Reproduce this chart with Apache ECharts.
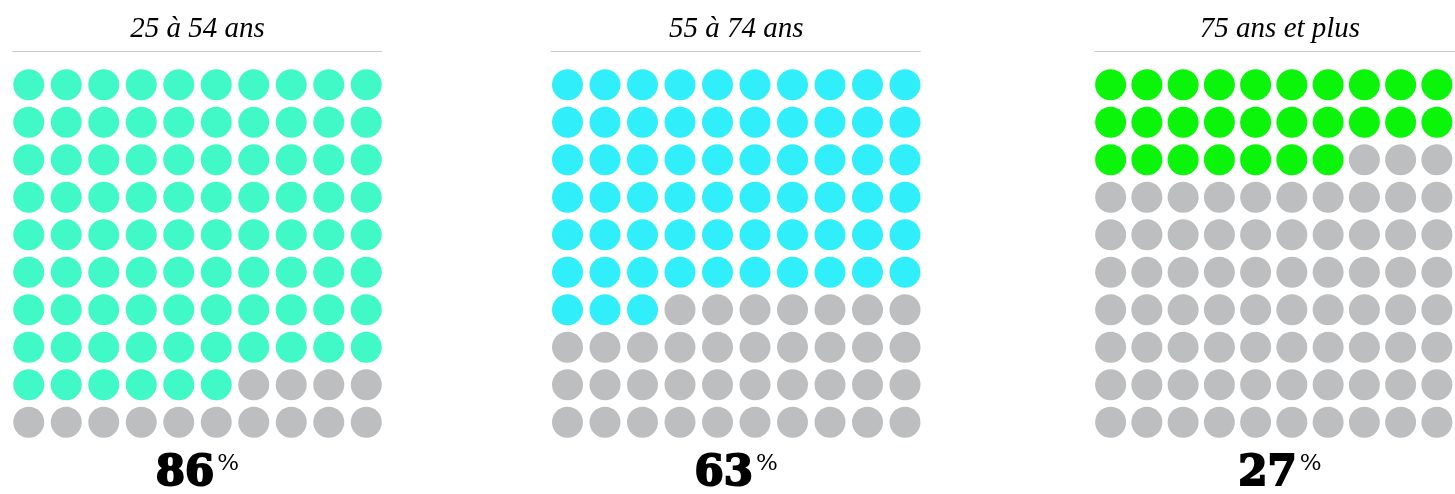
<!DOCTYPE html>
<html>
<head>
<meta charset="utf-8">
<script src="https://cdn.jsdelivr.net/npm/echarts@6/dist/echarts.min.js"></script>
<style>
  html, body { margin: 0; padding: 0; background: #fff; }
  #chart { width: 1455px; height: 494px; }
</style>
</head>
<body>
<div id="chart"></div>
<script>
// data
const groups = ['25 à 54 ans', '55 à 74 ans', '75 ans et plus'];
const percents = [86, 63, 27];
const fillColors = ['#41f9c6', '#31eefb', '#0af50a'];
const emptyColor = '#bdbec0';
const cols = ['0', '1', '2', '3', '4', '5', '6', '7', '8', '9'];
const rows = ['0', '1', '2', '3', '4', '5', '6', '7', '8', '9'];

// layout
const panelLeft = [10, 548.75, 1092.5];
const panelTop = 66;
const panelSize = 375;

const myChart = echarts.init(document.getElementById('chart'), null, { renderer: 'canvas' });

const grid = [], xAxis = [], yAxis = [], series = [], graphic = [];

groups.forEach((name, p) => {
  grid.push({ left: panelLeft[p], top: panelTop, width: panelSize, height: panelSize });
  xAxis.push({ type: 'category', gridIndex: p, data: cols, show: false });
  yAxis.push({ type: 'category', gridIndex: p, data: rows, inverse: true, show: false });

  const dots = [];
  rows.forEach((r, ri) => {
    cols.forEach((c, ci) => {
      const filled = ri * cols.length + ci < percents[p] ? 1 : 0;
      dots.push([c, r, filled]);
    });
  });

  series.push({
    type: 'scatter',
    xAxisIndex: p,
    yAxisIndex: p,
    symbol: 'circle',
    symbolSize: 31,
    silent: true,
    itemStyle: {
      opacity: 1,
      color: (d) => (d.value[2] ? fillColors[p] : emptyColor)
    },
    data: dots
  });

  const cx = panelLeft[p] + panelSize / 2;

  graphic.push({
    type: 'text',
    x: cx,
    y: 29,
    style: {
      text: name,
      textAlign: 'center',
      textVerticalAlign: 'middle',
      fontFamily: 'Liberation Serif',
      fontStyle: 'italic',
      fontSize: 29,
      fill: '#000'
    }
  });

  graphic.push({
    type: 'line',
    shape: { x1: panelLeft[p] + 2, y1: 51.5, x2: panelLeft[p] + panelSize - 3, y2: 51.5 },
    style: { stroke: '#cccccc', lineWidth: 1 }
  });

  graphic.push({
    type: 'text',
    x: cx,
    y: 474,
    style: {
      text: '{n|' + percents[p] + '}{p|%}',
      textAlign: 'center',
      textVerticalAlign: 'middle',
      rich: {
        n: { fontFamily: 'DejaVu Serif', fontWeight: 'bold', fontSize: 42, fill: '#000', stroke: '#000', lineWidth: 2 },
        p: { fontFamily: 'DejaVu Serif', fontSize: 23, fill: '#000', verticalAlign: 'top', padding: [0, 0, 0, 3] }
      }
    }
  });
});

myChart.setOption({
  animation: false,
  grid: grid,
  xAxis: xAxis,
  yAxis: yAxis,
  series: series,
  graphic: graphic
});
</script>
</body>
</html>
